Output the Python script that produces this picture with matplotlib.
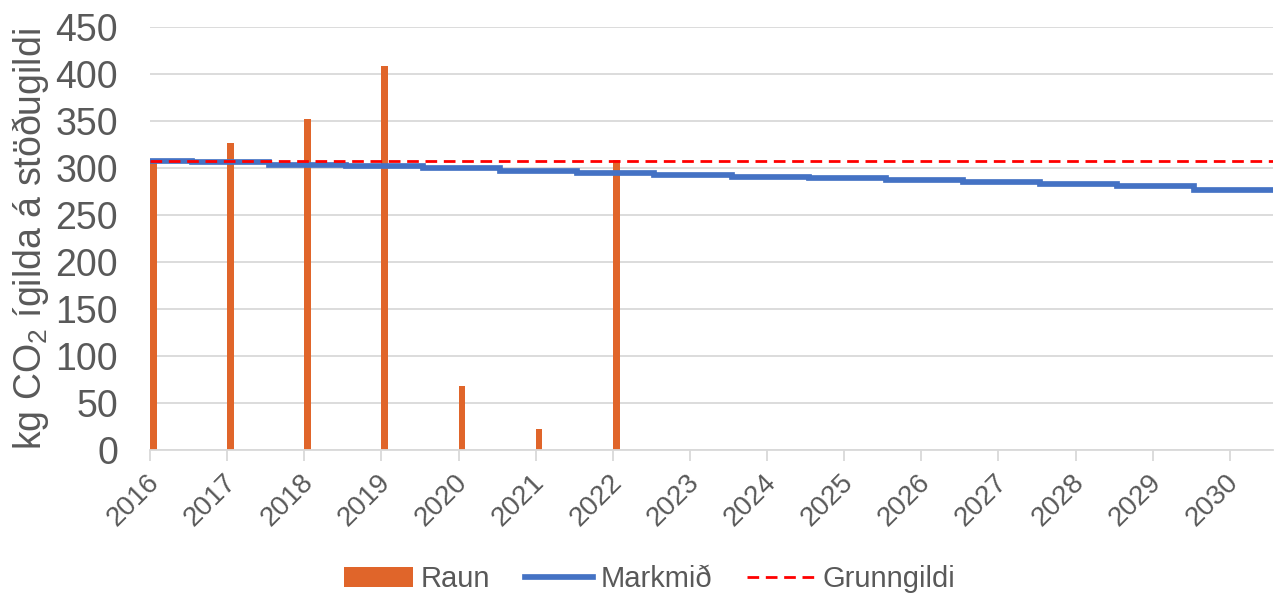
import matplotlib.pyplot as plt
import numpy as np
from matplotlib.transforms import ScaledTranslation

plt.rcParams['font.family'] = ['Liberation Sans', 'DejaVu Sans']
plt.rcParams['mathtext.default'] = 'regular'

# Raun (actual)
raun_years = np.array([2016, 2017, 2018, 2019, 2020, 2021, 2022])
raun = [309, 327, 352, 409, 68, 23, 309]

# Markmið (target)
target_years = np.arange(2016, 2031)
markmid = [308, 306.3, 304, 302, 300, 297.5, 295.3, 293, 291, 289.3, 287.8, 285.8, 283.6, 281.6, 277.3]

# Grunngildi (baseline)
grunngildi = 308

grey = '#595959'
fig = plt.figure(figsize=(12.76, 5.94), dpi=100)
ax = fig.add_axes([150 / 1276, 1 - 450.3 / 594, 1123 / 1276, (450.3 - 27.3) / 594])

h_bar = ax.bar(raun_years, raun, width=0.088, align='edge', color='#E0652A', label='Raun', zorder=2)

# target is a step line, changing in mid-year
edges = np.r_[target_years[0], target_years + 0.54]
edges[-1] = target_years[-1] + 0.56
h_line = ax.stairs(markmid, edges, baseline=None, color='#4472C4', linewidth=4.1, label='Markmið', zorder=3)

h_base = ax.axhline(grunngildi, color='#FF0000', linestyle=(0, (4.2, 2.4)), linewidth=2, label='Grunngildi', zorder=4)

ax.set_xlim(2016, 2030.56)
ax.set_ylim(0, 450)
ax.set_yticks(np.arange(0, 451, 50))
ax.set_xticks(target_years)
ax.grid(axis='y', color='#D9D9D9', linewidth=1.3, zorder=0)
ax.set_axisbelow(True)

for s in ['top', 'right', 'left']:
    ax.spines[s].set_visible(False)
ax.spines['bottom'].set_color('#D9D9D9')
ax.spines['bottom'].set_linewidth(1.3)

ax.tick_params(axis='y', length=0, labelsize=27, labelcolor=grey, pad=23)
ax.tick_params(axis='x', length=8, width=1.3, color='#D9D9D9', labelsize=20, labelcolor=grey, pad=2)
ax.set_xticklabels([str(y) for y in target_years])
offset = ScaledTranslation(5 / 100, -14 / 100, fig.dpi_scale_trans)
for lbl in ax.get_xticklabels():
    lbl.set_rotation(45)
    lbl.set_ha('right')
    lbl.set_va('center')
    lbl.set_rotation_mode('anchor')
    lbl.set_transform(lbl.get_transform() + offset)

ax.set_ylabel('kg CO$_2$ ígilda á stöðugildi', fontsize=27, color=grey)
ax.yaxis.set_label_coords(-99 / 1123, 0.5)

leg = fig.legend([h_bar, h_line, h_base], ['Raun', 'Markmið', 'Grunngildi'],
                 loc='center', bbox_to_anchor=(650 / 1276, 1 - 579 / 594), ncol=3, frameon=False,
                 fontsize=21, labelcolor=grey, handlelength=2.35, columnspacing=1.2, handletextpad=0.25)

fig.savefig('out.png', dpi=100)
